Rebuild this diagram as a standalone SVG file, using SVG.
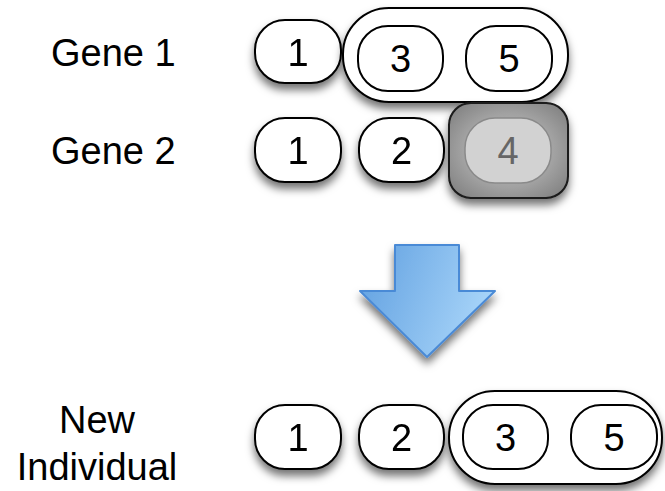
<svg xmlns="http://www.w3.org/2000/svg" width="665" height="491" viewBox="0 0 665 491">
  <defs>
    <filter id="shadow" x="-20%" y="-20%" width="140%" height="160%">
      <feDropShadow dx="0" dy="6" stdDeviation="4" flood-color="#000" flood-opacity="0.55"/>
    </filter>
    <radialGradient id="darkFill" cx="50%" cy="50%" r="70%">
      <stop offset="0" stop-color="#bcbcbc"/>
      <stop offset="0.55" stop-color="#a2a2a2"/>
      <stop offset="1" stop-color="#7a7a7a"/>
    </radialGradient>
    <linearGradient id="arrowFill" x1="0" y1="0" x2="1" y2="0.3">
      <stop offset="0" stop-color="#5f9fe0"/>
      <stop offset="1" stop-color="#a6d3f8"/>
    </linearGradient>
  </defs>
  <style>
    .node { fill: #ffffff; stroke: #000000; stroke-width: 2; }
    .box { fill: #ffffff; stroke: #000000; stroke-width: 2; }
    .dim { fill: #d2d2d2; stroke: #8a8a8a; stroke-width: 1.5; }
    .dark { fill: url(#darkFill); stroke: #1a1a1a; stroke-width: 2; }
    .digit { font-family: "Liberation Sans", Arial, sans-serif; font-size: 38px; fill: #000; text-anchor: middle; }
    .digit.faded { fill: #666666; }
    .label { font-family: "Liberation Sans", Arial, sans-serif; font-size: 38px; fill: #000; }
  </style>

  <!-- row labels -->
  <g id="labels">
    <text class="label" x="51" y="66">Gene 1</text>
    <text class="label" x="51" y="164">Gene 2</text>
    <text class="label" x="97" y="433" text-anchor="middle">New</text>
    <text class="label" x="97" y="480" text-anchor="middle">Individual</text>
  </g>

  <!-- Gene 1 -->
  <g id="g1-n1" filter="url(#shadow)">
    <rect class="node" x="255" y="20" width="86" height="63" rx="30"/>
    <text class="digit" x="298" y="66">1</text>
  </g>
  <g id="g1-block" filter="url(#shadow)">
    <rect class="box" x="343" y="8" width="225" height="94" rx="46"/>
  </g>
  <g id="g1-n3">
    <rect class="node" x="358" y="26" width="85" height="65" rx="30"/>
    <text class="digit" x="400.5" y="72">3</text>
  </g>
  <g id="g1-n5">
    <rect class="node" x="466" y="26" width="86" height="65" rx="30"/>
    <text class="digit" x="509" y="72">5</text>
  </g>

  <!-- Gene 2 -->
  <g id="g2-n1" filter="url(#shadow)">
    <rect class="node" x="255" y="118" width="86" height="64" rx="30"/>
    <text class="digit" x="298" y="164">1</text>
  </g>
  <g id="g2-n2" filter="url(#shadow)">
    <rect class="node" x="359" y="118" width="85" height="64" rx="30"/>
    <text class="digit" x="401.5" y="164">2</text>
  </g>
  <g id="g2-block" filter="url(#shadow)">
    <rect class="dark" x="449" y="103" width="119" height="95" rx="22"/>
  </g>
  <g id="g2-n4">
    <rect class="dim" x="465" y="118" width="86" height="65" rx="30"/>
    <text class="digit faded" x="508" y="164">4</text>
  </g>

  <!-- crossover arrow -->
  <g id="connectors">
    <polygon filter="url(#shadow)" points="395,245 459,245 459,291 495,291 427,357 360,291 395,291" fill="url(#arrowFill)" stroke="#4a8ad6" stroke-width="2" stroke-linejoin="round"/>
  </g>

  <!-- New individual -->
  <g id="ni-n1" filter="url(#shadow)">
    <rect class="node" x="255" y="405" width="86" height="64" rx="30"/>
    <text class="digit" x="298" y="451">1</text>
  </g>
  <g id="ni-n2" filter="url(#shadow)">
    <rect class="node" x="359" y="405" width="85" height="64" rx="30"/>
    <text class="digit" x="401.5" y="451">2</text>
  </g>
  <g id="ni-block" filter="url(#shadow)">
    <rect class="box" x="449" y="391" width="213" height="93" rx="46"/>
  </g>
  <g id="ni-n3">
    <rect class="node" x="463" y="405" width="85" height="64" rx="30"/>
    <text class="digit" x="505.5" y="451">3</text>
  </g>
  <g id="ni-n5">
    <rect class="node" x="571" y="405" width="86" height="64" rx="30"/>
    <text class="digit" x="614" y="451">5</text>
  </g>
</svg>
